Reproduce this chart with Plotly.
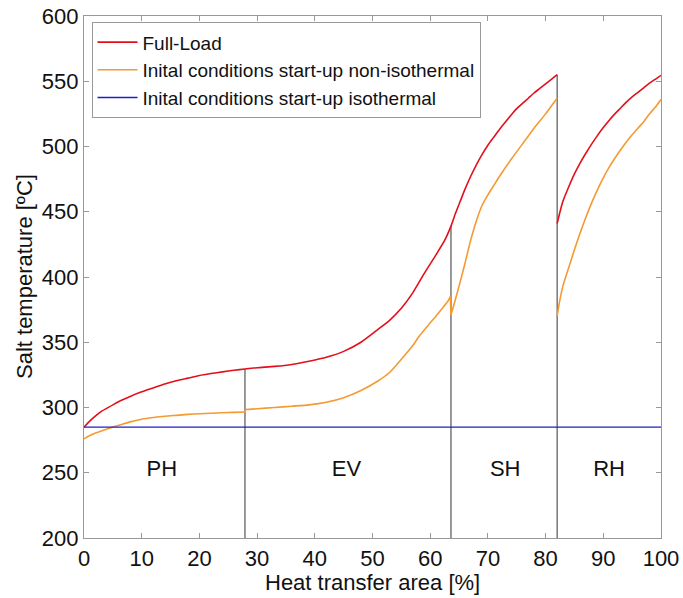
import plotly.graph_objects as go

# ---- data ----
red_x1 = [0, 1, 2, 3, 4, 5, 6.5, 8, 10, 12, 14, 16, 18, 20, 22, 24, 26, 27.9,
          30, 33, 36, 39, 42, 45, 48, 51, 53, 55, 57, 59, 61, 62.5, 63.6,
          64.4, 65.2, 66, 67, 68, 69, 70, 71, 72, 73, 74, 75, 76, 77, 78, 79, 80, 81, 82]
red_y1 = [285, 289.5, 293.5, 297, 299.5, 302, 305.5, 308.5, 312, 315, 318, 320.5, 322.5, 324.5, 326, 327.3, 328.5, 329.5,
          330.5, 331.5, 333, 335.5, 338.5, 343, 350, 360, 367, 376, 388, 403, 417, 428, 439,
          449, 458, 467, 477, 486, 494, 501, 507, 513, 518.5, 524, 529, 533, 537, 541, 544.5, 548, 551.5, 555]
red_x2 = [82, 82.5, 83, 84, 85, 86, 87, 88, 89, 90, 91, 92, 93, 94, 95, 96, 97, 98, 99, 100]
red_y2 = [441, 450, 458, 469, 479, 487.5, 495, 502, 508.5, 514.5, 520, 525, 529.5, 534, 538, 541.5, 545, 548.5, 551.5, 554.5]

org_x1 = [0, 1, 2, 3, 4, 5, 6.5, 8, 10, 12, 14, 16, 18, 20, 22, 24, 26, 27.9]
org_y1 = [276, 278.5, 280.5, 282, 283.5, 285, 287, 289, 291, 292.3, 293.3, 294, 294.7, 295.2, 295.6, 296, 296.3, 296.5]
org_x2 = [28, 30, 33, 36, 39, 42, 45, 48, 51, 53, 55, 57, 58, 59, 60, 61, 62, 63, 63.5]
org_y2 = [298.5, 299, 300, 301, 302, 304, 307.5, 313, 320.5, 327, 337, 347.5, 354, 359.5, 365, 370, 375.5, 381, 385]
org_x3 = [63.6, 64, 65, 66, 67, 68, 69, 70, 71, 72, 74, 76, 78, 80, 81, 82]
org_y3 = [371, 377, 393, 410, 428, 443, 455, 463, 470, 477, 490, 502, 514, 525, 531, 537]
org_x4 = [82, 82.5, 83, 83.7, 84.5, 85.3, 86, 87, 88, 89, 90, 91, 92, 93, 94, 95, 96, 97, 98, 99, 100]
org_y4 = [370, 383, 393, 403, 414, 425, 434, 446, 457, 467, 476, 484, 491, 497.5, 503.5, 509, 514, 519, 525, 530, 536]

blue_x = [0, 100]
blue_y = [285, 285]

bound_x = [27.9, 63.6, 82.0]
bound_top = [329.5, 439, 555]

sec_labels = ["PH", "EV", "SH", "RH"]
sec_x = [13.5, 45.5, 73, 91]
sec_y = [252, 252, 252, 252]

RED = "#e3101c"
ORANGE = "#f59a32"
BLUE = "#1c1cd2"
FONT = "Liberation Sans, Arial"

fig = go.Figure()

# section boundaries
for bx, bt in zip(bound_x, bound_top):
    fig.add_trace(go.Scatter(x=[bx, bx], y=[200, bt], mode="lines",
                             line=dict(color="#333333", width=1), showlegend=False, hoverinfo="skip"))

def seg(xs, ys, color, name, show, group, shape="spline"):
    fig.add_trace(go.Scatter(x=xs, y=ys, mode="lines", name=name, legendgroup=group, showlegend=show,
                             line=dict(color=color, width=1.6, shape=shape, smoothing=0.6)))

seg(red_x1, red_y1, RED, "Full-Load", True, "r")
seg(red_x2, red_y2, RED, "Full-Load", False, "r")

ON = "Inital conditions start-up non-isothermal"
seg(org_x1, org_y1, ORANGE, ON, True, "o")
seg([org_x1[-1], org_x2[0]], [org_y1[-1], org_y2[0]], ORANGE, ON, False, "o", "linear")
seg(org_x2, org_y2, ORANGE, ON, False, "o")
seg([org_x2[-1], org_x3[0]], [org_y2[-1], org_y3[0]], ORANGE, ON, False, "o", "linear")
seg(org_x3, org_y3, ORANGE, ON, False, "o")
seg(org_x4, org_y4, ORANGE, ON, False, "o")

fig.add_trace(go.Scatter(x=blue_x, y=blue_y, mode="lines",
                         name="Inital conditions start-up isothermal", line=dict(color=BLUE, width=1.4)))

fig.add_trace(go.Scatter(x=sec_x, y=sec_y, mode="text", text=sec_labels, showlegend=False,
                         textfont=dict(size=22, color="#111111", family=FONT)))

axis_common = dict(showline=True, linecolor="#999999", linewidth=1.2, mirror="allticks",
                   ticks="inside", ticklen=5, tickcolor="#999999", showgrid=False, zeroline=False,
                   automargin=False, tickfont=dict(size=22, color="#111111"))

fig.update_layout(
    width=683, height=598,
    margin=dict(l=84, r=22, t=16, b=60),
    paper_bgcolor="white", plot_bgcolor="white",
    font=dict(family=FONT, color="#111111"),
    xaxis=dict(range=[0, 100], tickvals=list(range(0, 101, 10)), **axis_common),
    yaxis=dict(range=[200, 600], tickvals=list(range(200, 601, 50)), **axis_common),
    legend=dict(x=0.013, y=0.988, xanchor="left", yanchor="top", bgcolor="white",
                bordercolor="#999999", borderwidth=1, font=dict(size=19, color="#111111"),
                tracegroupgap=0, itemwidth=40),
    annotations=[
        dict(text="Heat transfer area [%]", xref="paper", yref="paper", x=0.5, y=0,
             xanchor="center", yanchor="middle", yshift=-44, showarrow=False,
             font=dict(size=22, color="#111111")),
        dict(text="Salt temperature [ºC]", xref="paper", yref="paper", x=0, y=0.5,
             xanchor="center", yanchor="middle", xshift=-60, textangle=-90, showarrow=False,
             font=dict(size=22, color="#111111")),
    ],
)

fig.write_html("out.html")
